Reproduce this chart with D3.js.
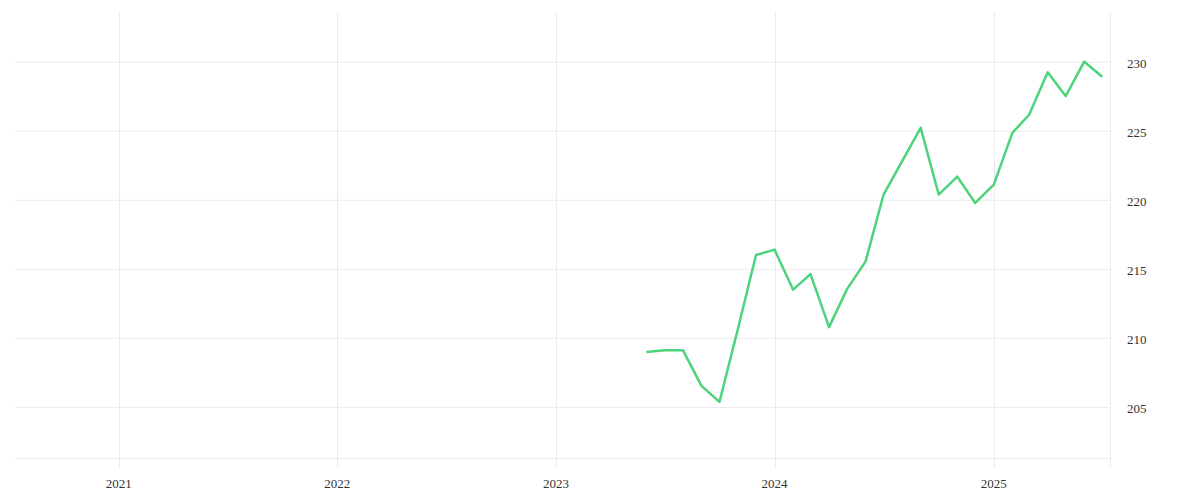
<!DOCTYPE html>
<html>
<head>
<meta charset="utf-8">
<script src="https://cdn.jsdelivr.net/npm/d3@7"></script>
<style>
    body { margin: 0; background: #fff; }
    svg text { font-family: "Liberation Serif", serif; font-size: 13px; fill: #333; }
</style>
</head>
<body>
<div id="chart"></div>
<script>
// Monthly values, Jun 2023 .. Jul 2025
const months = [
    "2023-06", "2023-07", "2023-08", "2023-09", "2023-10", "2023-11", "2023-12",
    "2024-01", "2024-02", "2024-03", "2024-04", "2024-05", "2024-06", "2024-07",
    "2024-08", "2024-09", "2024-10", "2024-11", "2024-12",
    "2025-01", "2025-02", "2025-03", "2025-04", "2025-05", "2025-06", "2025-07"
];
const values = [
    208.97, 209.11, 209.11, 206.52, 205.36, 210.68, 216.0,
    216.39, 213.49, 214.62, 210.78, 213.53, 215.54, 220.38,
    222.8, 225.21, 220.38, 221.68, 219.77,
    221.1, 224.85, 226.16, 229.23, 227.51, 230.0, 228.91
];
const yTicks = [205, 210, 215, 220, 225, 230];
const xTickYears = [2021, 2022, 2023, 2024, 2025];
const xExtent = ["2020-07-12", "2025-07-14"];
const yExtent = [201.3, 233.6];

const CONFIG = {
    width: 1200,
    height: 500,
    left: 15,
    right: 1110,
    top: 12,
    bottom: 458,
    lineColor: "#4cd37b",
    gridColor: "#ebebeb"
};

const parseMonth = d3.timeParse("%Y-%m");
const parseDay = d3.timeParse("%Y-%m-%d");
const data = months.map((m, i) => ({ date: parseMonth(m), value: values[i] }));

const svg = d3.select("#chart")
    .append("svg")
    .attr("width", CONFIG.width)
    .attr("height", CONFIG.height);

const x = d3.scaleTime()
    .domain(xExtent.map(parseDay))
    .range([CONFIG.left, CONFIG.right]);

const y = d3.scaleLinear()
    .domain(yExtent)
    .range([CONFIG.bottom, CONFIG.top]);

const xTicks = xTickYears.map(yr => new Date(yr, 0, 1));

// Horizontal gridlines
svg.append("g")
    .selectAll("line")
    .data(yTicks)
    .join("line")
    .attr("x1", CONFIG.left)
    .attr("x2", CONFIG.right)
    .attr("y1", d => y(d) + 0.5)
    .attr("y2", d => y(d) + 0.5)
    .attr("stroke", CONFIG.gridColor);

// Vertical gridlines (run a little below the baseline, like ticks)
svg.append("g")
    .selectAll("line")
    .data(xTicks)
    .join("line")
    .attr("x1", d => Math.round(x(d)) + 0.5)
    .attr("x2", d => Math.round(x(d)) + 0.5)
    .attr("y1", CONFIG.top)
    .attr("y2", CONFIG.bottom + 10)
    .attr("stroke", CONFIG.gridColor);

// Baseline and right axis line
svg.append("line")
    .attr("x1", CONFIG.left).attr("x2", CONFIG.right)
    .attr("y1", CONFIG.bottom + 0.5).attr("y2", CONFIG.bottom + 0.5)
    .attr("stroke", CONFIG.gridColor);

svg.append("line")
    .attr("x1", CONFIG.right + 0.5).attr("x2", CONFIG.right + 0.5)
    .attr("y1", CONFIG.top).attr("y2", CONFIG.bottom + 10)
    .attr("stroke", CONFIG.gridColor);

// Y labels on the right
svg.append("g")
    .selectAll("text")
    .data(yTicks)
    .join("text")
    .attr("x", CONFIG.right + 17)
    .attr("y", d => y(d) + 2)
    .attr("dy", "0.35em")
    .text(d => d);

// X labels
svg.append("g")
    .selectAll("text")
    .data(xTicks)
    .join("text")
    .attr("x", d => x(d))
    .attr("y", CONFIG.bottom + 25)
    .attr("dy", "0.35em")
    .attr("text-anchor", "middle")
    .text(d => d3.timeFormat("%Y")(d));

// Series line
const line = d3.line()
    .x(d => x(d.date))
    .y(d => y(d.value));

svg.append("path")
    .datum(data)
    .attr("fill", "none")
    .attr("stroke", CONFIG.lineColor)
    .attr("stroke-width", 2.5)
    .attr("stroke-linejoin", "round")
    .attr("d", line);
</script>
</body>
</html>
